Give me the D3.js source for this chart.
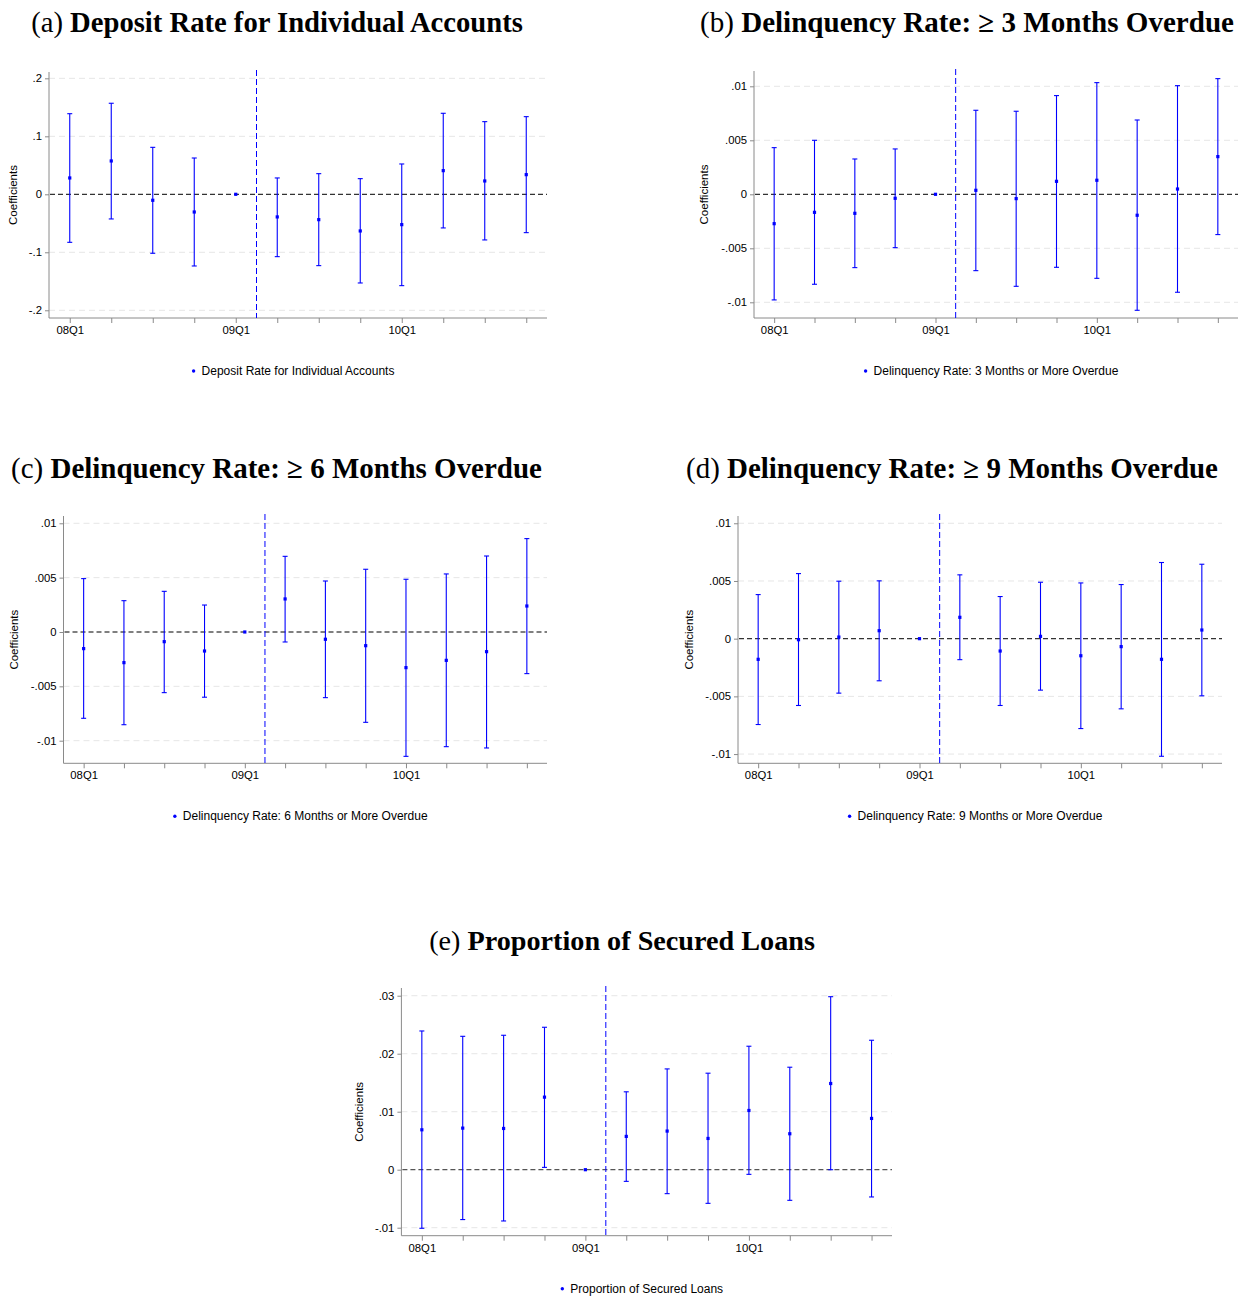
<!DOCTYPE html>
<html>
<head>
<meta charset="utf-8">
<script src="https://cdn.jsdelivr.net/npm/d3@7"></script>
<style>
  html, body { margin: 0; padding: 0; background: #fff; }
  svg { display: block; }
</style>
</head>
<body>
<svg id="chart" width="1242" height="1305"></svg>
<script>
// ---------------- DATA ----------------
const quarters = ["08Q1","08Q2","08Q3","08Q4","09Q1","09Q2","09Q3","09Q4","10Q1","10Q2","10Q3","10Q4"];
const xTickLabels = ["08Q1","","","","09Q1","","","","10Q1","","",""];
const eventIndex = 4.5; // vertical dashed line between 09Q1 and 09Q2

// (a) Deposit Rate for Individual Accounts
const depositCoef  = [0.0282, 0.0575, -0.0103, -0.0305, 0, -0.0390, -0.0437, -0.0632, -0.0523, 0.0408, 0.0230, 0.0339];
const depositLower = [-0.0828, -0.0425, -0.1017, -0.1236, null, -0.1075, -0.1230, -0.1529, -0.1575, -0.0580, -0.0787, -0.0661];
const depositUpper = [0.1390, 0.1570, 0.0810, 0.0626, null, 0.0282, 0.0356, 0.0270, 0.0523, 0.1397, 0.1253, 0.1339];
const depositTicks = [-0.2, -0.1, 0, 0.1, 0.2];
const depositTickLabels = ["-.2", "-.1", "0", ".1", ".2"];

// (b) Delinquency Rate: >= 3 months
const del3Coef  = [-0.00272, -0.00167, -0.00176, -0.00037, 0, 0.00037, -0.00040, 0.00120, 0.00130, -0.00194, 0.00049, 0.00349];
const del3Lower = [-0.00978, -0.00833, -0.00679, -0.00494, null, -0.00707, -0.00852, -0.00676, -0.00778, -0.01074, -0.00907, -0.00373];
const del3Upper = [0.00432, 0.00500, 0.00327, 0.00420, null, 0.00778, 0.00769, 0.00914, 0.01034, 0.00688, 0.01006, 0.01071];

// (c) Delinquency Rate: >= 6 months
const del6Coef  = [-0.00153, -0.00282, -0.00089, -0.00175, 0, 0.00304, -0.00067, -0.00126, -0.00328, -0.00261, -0.00181, 0.00239];
const del6Lower = [-0.00794, -0.00853, -0.00558, -0.00600, null, -0.00092, -0.00604, -0.00831, -0.01144, -0.01055, -0.01067, -0.00383];
const del6Upper = [0.00491, 0.00288, 0.00374, 0.00248, null, 0.00696, 0.00469, 0.00577, 0.00485, 0.00534, 0.00699, 0.00859];

// (d) Delinquency Rate: >= 9 months
const del9Coef  = [-0.00179, -0.00009, 0.00014, 0.00069, 0, 0.00185, -0.00107, 0.00020, -0.00148, -0.00069, -0.00179, 0.00075];
const del9Lower = [-0.00744, -0.00579, -0.00472, -0.00365, null, -0.00182, -0.00579, -0.00446, -0.00779, -0.00608, -0.01019, -0.00495];
const del9Upper = [0.00382, 0.00564, 0.00498, 0.00501, null, 0.00553, 0.00365, 0.00489, 0.00483, 0.00469, 0.00660, 0.00645];

const delinqTicks = [-0.01, -0.005, 0, 0.005, 0.01];
const delinqTickLabels = ["-.01", "-.005", "0", ".005", ".01"];

// (e) Proportion of Secured Loans
const securedCoef  = [0.00688, 0.00717, 0.00711, 0.01251, 0, 0.00574, 0.00666, 0.00539, 0.01021, 0.00620, 0.01486, 0.00884];
const securedLower = [-0.01010, -0.00860, -0.00884, 0.00040, null, -0.00201, -0.00413, -0.00580, -0.00080, -0.00528, 0.00000, -0.00470];
const securedUpper = [0.02392, 0.02300, 0.02318, 0.02456, null, 0.01343, 0.01738, 0.01664, 0.02129, 0.01767, 0.02983, 0.02232];
const securedTicks = [-0.01, 0, 0.01, 0.02, 0.03];
const securedTickLabels = ["-.01", "0", ".01", ".02", ".03"];

// Titles and legend texts
const titlePrefixes = ["(a) ", "(b) ", "(c) ", "(d) ", "(e) "];
const titleTexts = [
  "Deposit Rate for Individual Accounts",
  "Delinquency Rate: \u2265 3 Months Overdue",
  "Delinquency Rate: \u2265 6 Months Overdue",
  "Delinquency Rate: \u2265 9 Months Overdue",
  "Proportion of Secured Loans"
];
const legendTexts = [
  "Deposit Rate for Individual Accounts",
  "Delinquency Rate: 3 Months or More Overdue",
  "Delinquency Rate: 6 Months or More Overdue",
  "Delinquency Rate: 9 Months or More Overdue",
  "Proportion of Secured Loans"
];
const yAxisTitle = "Coefficients";

// ---------------- LAYOUT (positions / styles only) ----------------
const layouts = [
  { left: 49,    right: 547,  top: 72,  bottom: 318,   yDomain: [-0.2133, 0.2109],   titleX0: 31,  titleX1: 523,  titleY: 32,  yTitleX: 13,  zeroColor: "#333" },
  { left: 754,   right: 1238, top: 71,  bottom: 318,   yDomain: [-0.011454, 0.011417], titleX0: 700, titleX1: 1234, titleY: 32,  yTitleX: 704, zeroColor: "#333" },
  { left: 63.5,  right: 547,  top: 516, bottom: 763.3, yDomain: [-0.01208, 0.01067], titleX0: 11,  titleX1: 542,  titleY: 478, yTitleX: 14,  zeroColor: "#555" },
  { left: 738,   right: 1222, top: 516, bottom: 763.3, yDomain: [-0.0108, 0.01063],  titleX0: 686, titleX1: 1218, titleY: 478, yTitleX: 689, zeroColor: "#333" },
  { left: 401.4, right: 892,  top: 988, bottom: 1235.7, yDomain: [-0.01138, 0.03133], titleX0: 429, titleX1: 815,  titleY: 950, yTitleX: 359, zeroColor: "#555" }
];

const panels = [
  { coef: depositCoef, lower: depositLower, upper: depositUpper, ticks: depositTicks, tickLabels: depositTickLabels },
  { coef: del3Coef, lower: del3Lower, upper: del3Upper, ticks: delinqTicks, tickLabels: delinqTickLabels },
  { coef: del6Coef, lower: del6Lower, upper: del6Upper, ticks: delinqTicks, tickLabels: delinqTickLabels },
  { coef: del9Coef, lower: del9Lower, upper: del9Upper, ticks: delinqTicks, tickLabels: delinqTickLabels },
  { coef: securedCoef, lower: securedLower, upper: securedUpper, ticks: securedTicks, tickLabels: securedTickLabels }
];

const BLUE = "#0000ff";
const SANS = "'Liberation Sans', Arial, Helvetica, sans-serif";
const SERIF = "'Liberation Serif', 'Times New Roman', serif";

const svg = d3.select("#chart");

panels.forEach((p, k) => {
  const L = layouts[k];
  const g = svg.append("g");

  const x = d3.scaleLinear().domain([-0.5, quarters.length - 0.5]).range([L.left, L.right]);
  const y = d3.scaleLinear().domain(L.yDomain).range([L.bottom, L.top]);

  // Title
  const title = g.append("text")
    .attr("x", L.titleX0).attr("y", L.titleY)
    .attr("font-family", SERIF).attr("font-size", 27).attr("fill", "#000");
  title.append("tspan").attr("font-weight", "normal").text(titlePrefixes[k]);
  title.append("tspan").attr("font-weight", "bold").text(titleTexts[k]);
  const tw = title.node().getComputedTextLength();
  const target = L.titleX1 - L.titleX0;
  const fs = Math.max(23, Math.min(31, 27 * target / tw));
  title.attr("font-size", fs);
  const tw2 = title.node().getComputedTextLength();
  const cx = (L.titleX0 + L.titleX1) / 2;
  title.attr("x", cx - tw2 / 2);

  // Grid lines (non-zero ticks)
  g.append("g").selectAll("line").data(p.ticks.filter(t => t !== 0)).join("line")
    .attr("x1", L.left).attr("x2", L.right)
    .attr("y1", d => y(d)).attr("y2", d => y(d))
    .attr("stroke", "#e6e6e6").attr("stroke-width", 1).attr("stroke-dasharray", "6,4");

  // Y axis
  const yAxis = d3.axisLeft(y).tickValues(p.ticks)
    .tickFormat((d, i) => p.tickLabels[i]).tickSize(4).tickPadding(3);
  const yg = g.append("g").attr("transform", `translate(${L.left},0)`).call(yAxis);
  yg.select(".domain").attr("d", `M0,${L.top}V${L.bottom}`).attr("stroke", "#8a8a8a");
  yg.selectAll(".tick line").attr("stroke", "#8a8a8a");
  yg.selectAll(".tick text").attr("font-family", SANS).attr("font-size", 11.3).attr("fill", "#000");

  // X axis
  const xAxis = d3.axisBottom(x).tickValues(d3.range(quarters.length))
    .tickFormat(i => xTickLabels[i]).tickSize(5).tickPadding(3);
  const xg = g.append("g").attr("transform", `translate(0,${L.bottom})`).call(xAxis);
  xg.select(".domain").attr("d", `M${L.left},0H${L.right}`).attr("stroke", "#8a8a8a");
  xg.selectAll(".tick line").attr("stroke", "#8a8a8a");
  xg.selectAll(".tick text").attr("font-family", SANS).attr("font-size", 11.3).attr("fill", "#000");

  // Zero line
  g.append("line")
    .attr("x1", L.left + 1).attr("x2", L.right)
    .attr("y1", y(0)).attr("y2", y(0))
    .attr("stroke", L.zeroColor).attr("stroke-width", 1.3).attr("stroke-dasharray", "5,3");

  // Event line
  g.append("line")
    .attr("x1", x(eventIndex)).attr("x2", x(eventIndex))
    .attr("y1", L.top - 2).attr("y2", L.bottom)
    .attr("stroke", BLUE).attr("stroke-width", 1).attr("stroke-dasharray", "6,3");

  // Error bars
  const rows = quarters.map((q, i) => ({ i, c: p.coef[i], lo: p.lower[i], hi: p.upper[i] }));
  const ci = rows.filter(r => r.lo !== null && r.hi !== null);
  const eb = g.append("g");
  eb.selectAll("line.v").data(ci).join("line").attr("class", "v")
    .attr("x1", d => x(d.i)).attr("x2", d => x(d.i))
    .attr("y1", d => y(d.lo)).attr("y2", d => y(d.hi))
    .attr("stroke", BLUE).attr("stroke-width", 1.1);
  eb.selectAll("line.capt").data(ci).join("line").attr("class", "capt")
    .attr("x1", d => x(d.i) - 2.5).attr("x2", d => x(d.i) + 2.5)
    .attr("y1", d => y(d.hi)).attr("y2", d => y(d.hi))
    .attr("stroke", BLUE).attr("stroke-width", 1.1);
  eb.selectAll("line.capb").data(ci).join("line").attr("class", "capb")
    .attr("x1", d => x(d.i) - 2.5).attr("x2", d => x(d.i) + 2.5)
    .attr("y1", d => y(d.lo)).attr("y2", d => y(d.lo))
    .attr("stroke", BLUE).attr("stroke-width", 1.1);

  // Points
  g.append("g").selectAll("rect").data(rows).join("rect")
    .attr("x", d => x(d.i) - 1.6).attr("y", d => y(d.c) - 1.6)
    .attr("width", 3.2).attr("height", 3.2).attr("fill", BLUE);

  // Y axis title
  g.append("text")
    .attr("transform", `translate(${L.yTitleX + 4},${(L.top + L.bottom) / 2}) rotate(-90)`)
    .attr("text-anchor", "middle")
    .attr("font-family", SANS).attr("font-size", 11.5).attr("fill", "#000")
    .text(yAxisTitle);

  // Legend
  const lg = g.append("g");
  const lt = lg.append("text")
    .attr("x", 0).attr("y", 0)
    .attr("font-family", SANS).attr("font-size", 12).attr("fill", "#000")
    .text(legendTexts[k]);
  const lw = lt.node().getComputedTextLength();
  const legendCenter = (L.left + L.right) / 2 - 4;
  const startX = legendCenter - (lw + 8) / 2;
  const ly = L.bottom + 57;
  lt.attr("x", startX + 8).attr("y", ly);
  lg.append("circle").attr("cx", startX).attr("cy", ly - 4)
    .attr("r", 1.7).attr("fill", BLUE);
});
</script>
</body>
</html>
